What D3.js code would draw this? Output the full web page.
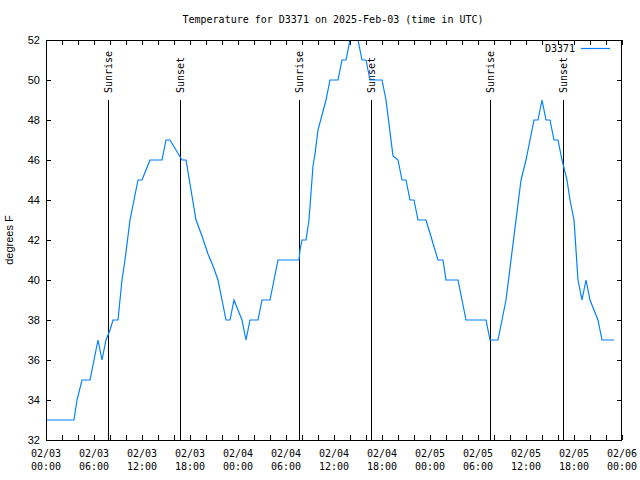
<!DOCTYPE html>
<html lang="en">
<head>
<meta charset="UTF-8">
<title>Temperature for D3371</title>
<script src="https://d3js.org/d3.v7.min.js"></script>
<style>
    body { margin: 0; background: #fff; }
    svg { display: block; }
    .mono { font-family: 'DejaVu Sans Mono', monospace; font-size: 10px; fill: #000; }
    .sans { font-family: 'Liberation Sans', Arial, sans-serif; font-size: 11px; fill: #000; }
    .axis path { display: none; }
    .axis line { stroke: #000; shape-rendering: crispEdges; }
</style>
</head>
<body>
<svg id="chart" width="640" height="480"></svg>
<script>
    // hours since 2025-02-03 00:00 UTC, and temperature (deg F)
    const hours = [0, 3.5, 3.875, 4.5, 5.5, 6, 6.5, 7, 7.5, 8, 8.375, 9, 9.5, 9.875, 10.5, 11, 11.5, 12, 12.5, 13,
        14.5, 15, 15.5, 16.25, 17, 17.5, 18, 18.75, 19.5, 20.25, 20.875, 21.5, 22, 22.5, 23, 23.5, 24, 24.5, 25, 25.5,
        26.5, 27, 28, 28.5, 29, 31.625, 31.75, 32, 32.5, 32.875, 33.375, 33.625, 34, 35, 35.5, 36.5, 37, 37.5, 38, 38.5,
        39, 39.5, 40, 40.5, 42, 42.5, 43.375, 44, 44.5, 45, 45.5, 46, 46.5, 47.5, 48.25, 49, 49.625, 50, 51.5, 52,
        52.5, 55, 55.25, 55.5, 56.5, 57, 57.5, 58.125, 58.75, 59.375, 60, 60.5, 61, 61.5, 62, 62.5, 63, 63.5, 64, 64.5,
        65.125, 65.5, 66, 66.5, 67, 67.5, 68, 68.5, 69, 69.5, 71];
    const temps = [33, 33, 34, 35, 35, 36, 37, 36, 37, 37.5, 38, 38, 40, 41, 43, 44, 45, 45, 45.5, 46,
        46, 47, 47, 46.5, 46, 46, 44.8, 43, 42.2, 41.3, 40.7, 40, 39, 38, 38, 39, 38.5, 38, 37, 38,
        38, 39, 39, 40, 41, 41, 41.5, 42, 42, 43, 45.7, 46.3, 47.5, 49, 50, 50, 51, 51, 52, 53,
        52, 51, 51, 50, 50, 49, 46.2, 46, 45, 45, 44, 44, 43, 43, 42, 41, 41, 40, 40, 39,
        38, 38, 37.5, 37, 37, 38, 39, 41, 43, 45, 46, 47, 48, 48, 49, 48, 48, 47, 47, 46,
        45, 44, 43, 40, 39, 40, 39, 38.5, 38, 37, 37];

    const sunrise = [7.78, 31.66, 55.55];
    const sunset = [16.78, 40.66, 64.66];

    const yTicks = [32, 34, 36, 38, 40, 42, 44, 46, 48, 50, 52];
    const titleText = "Temperature for D3371 on 2025-Feb-03 (time in UTC)";
    const seriesName = "D3371";

    const start = Date.UTC(2025, 1, 3);
    const toDate = h => new Date(start + h * 3600 * 1000);

    const pL = 46, pR = 622, pT = 40, pB = 440;
    const svg = d3.select("#chart");

    const x = d3.scaleUtc().domain([toDate(0), toDate(72)]).range([pL, pR]);
    const y = d3.scaleLinear().domain([32, 52]).range([pB, pT]);

    const minorTicks = d3.range(0, 73, 2).map(toDate);
    const majorTicks = d3.range(0, 73, 6).map(toDate);

    // ticks on all four sides, pointing inward
    svg.append("g").attr("class", "axis").attr("transform", `translate(0,${pB})`)
        .call(d3.axisBottom(x).tickValues(minorTicks).tickSize(-5).tickFormat(""));
    svg.append("g").attr("class", "axis").attr("transform", `translate(0,${pT})`)
        .call(d3.axisTop(x).tickValues(minorTicks).tickSize(-5).tickFormat(""));
    svg.append("g").attr("class", "axis").attr("transform", `translate(${pL},0)`)
        .call(d3.axisLeft(y).tickValues(yTicks).tickSize(-5).tickPadding(6))
        .selectAll("text").attr("class", "sans").attr("fill", "#000");
    svg.append("g").attr("class", "axis").attr("transform", `translate(${pR},0)`)
        .call(d3.axisRight(y).tickValues(yTicks).tickSize(-5).tickFormat(""));

    // two-line date labels
    const fmtDay = d3.utcFormat("%m/%d"), fmtTime = d3.utcFormat("%H:%M");
    const xl = svg.append("g").selectAll("text").data(majorTicks).join("text")
        .attr("class", "mono").attr("text-anchor", "middle");
    xl.append("tspan").attr("x", d => x(d)).attr("y", 457).text(fmtDay);
    xl.append("tspan").attr("x", d => x(d)).attr("y", 470).text(fmtTime);

    svg.append("defs").append("clipPath").attr("id", "plot")
        .append("rect").attr("x", pL).attr("y", pT).attr("width", pR - pL).attr("height", pB - pT);

    // sunrise / sunset markers
    const sun = sunrise.map(h => ({ h, label: "Sunrise" })).concat(sunset.map(h => ({ h, label: "Sunset" })));
    svg.append("g").selectAll("line").data(sun).join("line")
        .attr("x1", d => Math.round(x(toDate(d.h))) + 0.5).attr("x2", d => Math.round(x(toDate(d.h))) + 0.5)
        .attr("y1", y(49)).attr("y2", pB)
        .attr("stroke", "#000").attr("stroke-width", 1);
    svg.append("g").selectAll("text").data(sun).join("text")
        .attr("class", "mono").attr("text-anchor", "start").attr("dominant-baseline", "central")
        .attr("transform", d => `translate(${Math.round(x(toDate(d.h))) + 0.5},93) rotate(-90)`)
        .text(d => d.label);

    const line = d3.line().x((d, i) => x(toDate(hours[i]))).y(d => y(d));
    svg.append("path").datum(temps)
        .attr("clip-path", "url(#plot)")
        .attr("fill", "none").attr("stroke", "#0080ff").attr("stroke-width", 1.2)
        .attr("d", line);

    // frame
    svg.append("rect").attr("x", pL + 0.5).attr("y", pT + 0.5)
        .attr("width", pR - pL - 1).attr("height", pB - pT)
        .attr("fill", "none").attr("stroke", "#000").attr("shape-rendering", "crispEdges");

    // legend
    svg.append("text").attr("class", "mono").attr("text-anchor", "end")
        .attr("x", 575).attr("y", 52).text(seriesName);
    svg.append("line").attr("x1", 581).attr("x2", 610).attr("y1", 48.5).attr("y2", 48.5)
        .attr("stroke", "#0080ff").attr("stroke-width", 1.2);

    svg.append("text").attr("class", "mono").attr("text-anchor", "middle")
        .attr("x", 333).attr("y", 23).text(titleText);

    svg.append("text").attr("class", "sans").attr("text-anchor", "middle")
        .attr("transform", "translate(13,240) rotate(-90)").text("degrees F");
</script>
</body>
</html>
